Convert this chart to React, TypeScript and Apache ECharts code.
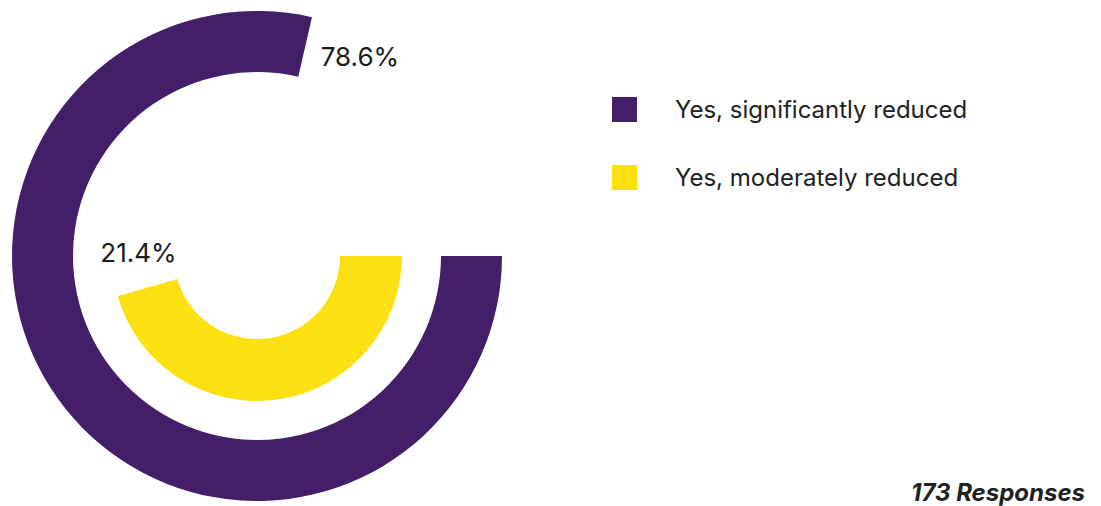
import React, { useEffect, useRef } from "react";
import * as echarts from "echarts";

const categories = ["Yes, significantly reduced", "Yes, moderately reduced"];
const percentages = [78.6, 21.4];
const seriesColors = ["#431f69", "#fde012"];
const responsesNote = "173 Responses";

// layout constants (angle-axis span of each ring, label nudges)
const ringScaleMax = [100, 47];
const ringRadii: [number, number][] = [
  [184, 245],
  [83, 145],
];
const labelNudge = [
  { dx: 1, dy: 6 },
  { dx: -43, dy: -21 },
];

export default function App() {
  const ref = useRef<HTMLDivElement>(null);
  useEffect(() => {
    if (!ref.current) return;
    const chart = echarts.init(ref.current, undefined, { renderer: "svg" });
    const center = [257, 256];
    chart.setOption({
      animation: false,
      backgroundColor: "#ffffff",
      textStyle: { fontFamily: "Inter" },
      polar: ringRadii.map((r) => ({ center, radius: r })),
      angleAxis: ringScaleMax.map((m, i) => ({
        polarIndex: i,
        type: "value",
        min: 0,
        max: m,
        startAngle: 0,
        clockwise: true,
        show: false,
      })),
      radiusAxis: categories.map((c, i) => ({
        polarIndex: i,
        type: "category",
        data: [c],
        show: false,
      })),
      legend: {
        orient: "vertical",
        left: 612,
        top: 97,
        padding: 0,
        icon: "rect",
        itemWidth: 25,
        itemHeight: 25,
        itemGap: 43,
        data: categories,
        textStyle: {
          fontFamily: "Inter",
          fontSize: 24,
          color: "#222222",
          padding: [0, 0, 0, 33],
        },
      },
      series: categories.map((c, i) => ({
        name: c,
        type: "bar",
        coordinateSystem: "polar",
        polarIndex: i,
        data: [percentages[i]],
        barWidth: "100%",
        barCategoryGap: "0%",
        itemStyle: { color: seriesColors[i] },
        label: {
          show: true,
          position: "end",
          rotate: 0,
          distance: 15,
          formatter: (p: any) => `${p.value}%`,
          fontFamily: "Inter",
          fontSize: 26,
          color: "#1a1a1a",
        },
        labelLayout: labelNudge[i],
      })),
      graphic: [
        {
          type: "text",
          right: 16,
          top: 480,
          style: {
            text: responsesNote,
            fontFamily: "Inter",
            fontSize: 24,
            fontWeight: "bold",
            fontStyle: "italic",
            fill: "#222222",
          },
        },
      ],
    });
    return () => chart.dispose();
  }, []);
  return (
    <div
      ref={ref}
      style={{ position: "fixed", left: 0, top: 0, width: 1101, height: 506 }}
    />
  );
}
